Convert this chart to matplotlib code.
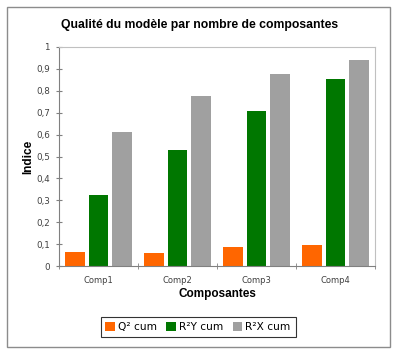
import matplotlib
matplotlib.use("Agg")
import matplotlib.pyplot as plt
import numpy as np
from matplotlib.patches import Rectangle
from matplotlib.ticker import FuncFormatter

# data
categories = ["Comp1", "Comp2", "Comp3", "Comp4"]
q2_cum = [0.064, 0.060, 0.088, 0.096]
r2y_cum = [0.324, 0.530, 0.708, 0.854]
r2x_cum = [0.612, 0.776, 0.877, 0.940]
series_names = ["Q² cum", "R²Y cum", "R²X cum"]
colors = ["#FF6600", "#007700", "#A0A0A0"]

fig = plt.figure(figsize=(3.99, 3.53), dpi=100)
W, H = 399, 353

# outer frame
fig.patches.append(Rectangle((7 / W, 1 - 347 / H), (390 - 7) / W, (347 - 7) / H,
                             transform=fig.transFigure, fill=False,
                             edgecolor="#8C8C8C", linewidth=1.0))

ax = fig.add_axes([59 / W, 1 - 266 / H, (375 - 59) / W, (266 - 47) / H])

x = np.arange(len(categories))
width = 0.25
offs = [-0.30, 0.0, 0.30]
for vals, name, col, off in zip([q2_cum, r2y_cum, r2x_cum], series_names, colors, offs):
    ax.bar(x + off, vals, width, color=col, label=name)

ax.set_xlim(-0.5, len(categories) - 0.5)
ax.set_ylim(0, 1)
ax.set_yticks(np.arange(0, 1.01, 0.1))
ax.yaxis.set_major_formatter(FuncFormatter(lambda v, p: "0" if v == 0 else ("1" if v == 1 else f"{v:.1f}".replace(".", ","))))
ax.set_xticks(x)
ax.set_xticklabels(categories)
ax.set_xticks(np.arange(-0.5, len(categories)), minor=True)
ax.tick_params(axis="x", which="major", length=0, pad=7, labelsize=6, labelcolor="#404040")
ax.tick_params(axis="x", which="minor", length=4, direction="inout", color="#808080")
ax.tick_params(axis="y", length=5, direction="inout", color="#808080", labelsize=6.3,
               labelcolor="#404040", pad=4)

for s in ["left", "bottom"]:
    ax.spines[s].set_color("#808080")
for s in ["top", "right"]:
    ax.spines[s].set_color("#C0C0C0")

ax.set_ylabel("Indice", fontsize=8.5, fontweight="bold", family="Liberation Sans")
ax.set_xlabel("Composantes", fontsize=8.5, fontweight="bold", family="Liberation Sans")
ax.yaxis.set_label_coords(-25 / 316, 0.5)
ax.xaxis.set_label_coords(0.5, -22 / 219)

fig.text(0.5, 1 - 25 / H, "Qualité du modèle par nombre de composantes", ha="center", va="center",
         fontsize=8.8, fontweight="bold", family="Liberation Sans")

leg = fig.legend(loc="center", bbox_to_anchor=(198 / W, 1 - 327 / H), ncol=3, frameon=True,
                 fancybox=False, edgecolor="black", fontsize=7.6, handlelength=0.9,
                 handleheight=0.9, handletextpad=0.3, columnspacing=0.9, borderpad=0.45)
leg.get_frame().set_linewidth(0.8)

fig.savefig("out.png", dpi=100)
